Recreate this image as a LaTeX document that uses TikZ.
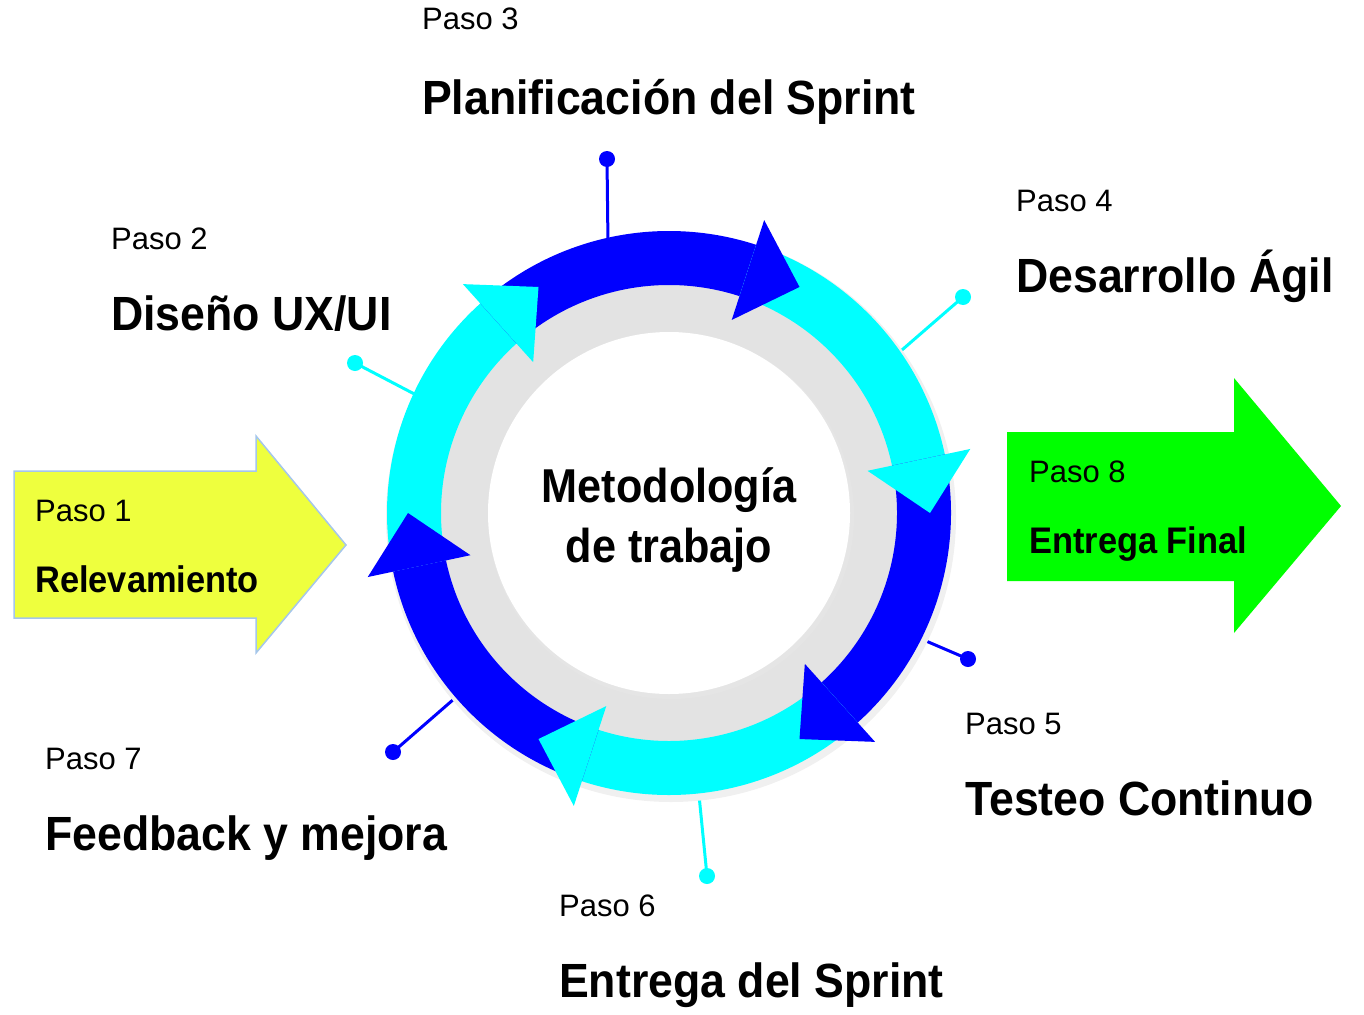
\documentclass[tikz,border=0pt]{standalone}
\usepackage{fontspec}
\setmainfont{Liberation Sans}
\newfontfamily\boldfont[FakeStretch=0.93]{Liberation Sans}
\newfontfamily\centerfont[FakeStretch=0.91]{Liberation Sans}
\usetikzlibrary{calc}
\definecolor{myblue}{RGB}{0,0,255}
\definecolor{mycyan}{RGB}{0,255,255}
\definecolor{ringgray}{RGB}{227,227,227}
\definecolor{yelfill}{RGB}{238,255,62}
\definecolor{yelborder}{RGB}{165,198,235}
\definecolor{grnfill}{RGB}{0,255,0}
\tikzset{
  pasotext/.style={anchor=base west,inner sep=0pt,font=\fontsize{31}{36}\selectfont},
  titletext/.style={anchor=base west,inner sep=0pt,font=\boldfont\bfseries\fontsize{48}{54}\selectfont},
  boxtitle/.style={anchor=base west,inner sep=0pt,font=\boldfont\bfseries\fontsize{37}{42}\selectfont},
  centertext/.style={anchor=base,inner sep=0pt,font=\centerfont\bfseries\fontsize{47.5}{54}\selectfont},
  pindot/.style={circle,fill=#1,inner sep=0pt,minimum size=16pt},
  pinline/.style={draw=#1,line width=3pt},
}
\begin{document}
\begin{tikzpicture}[x=1pt,y=-1pt]
\useasboundingbox (0,0) rectangle (1364,1014);
\coordinate (C) at (669,513);

% side arrows
\draw[fill=yelfill,draw=yelborder,line width=1.5pt,line join=miter]
  (14,471) -- (256,471) -- (256,436) -- (346,545) -- (256,653) -- (256,618) -- (14,618) -- cycle;
\fill[grnfill] (1007,432) -- (1234,432) -- (1234,378) -- (1341,506) -- (1234,633) -- (1234,581) -- (1007,581) -- cycle;

% pins (under the ring)
\node[pindot=myblue] (d3) at (607,159) {};
\coordinate (e3) at (608,245);
\draw[pinline=myblue] (d3.center) -- (e3);
\node[pindot=mycyan] (d4) at (963,297) {};
\coordinate (e4) at (895,356);
\draw[pinline=mycyan] (d4.center) -- (e4);
\node[pindot=mycyan] (d2) at (355,363) {};
\coordinate (e2) at (422,398);
\draw[pinline=mycyan] (d2.center) -- (e2);
\node[pindot=myblue] (d5) at (968,659) {};
\coordinate (e5) at (912,635);
\draw[pinline=myblue] (d5.center) -- (e5);
\node[pindot=mycyan] (d6) at (707,876) {};
\coordinate (e6) at (698,785);
\draw[pinline=mycyan] (d6.center) -- (e6);
\node[pindot=myblue] (d7) at (393,752) {};
\coordinate (e7) at (462,692);
\draw[pinline=myblue] (d7.center) -- (e7);

% gray ring and white centre
\fill[black!6] ($(C)+(2,4)$) circle[radius=285];
\fill[ringgray] (C) circle[radius=250];
\fill[black!10] ($(C)+(2,3)$) circle[radius=183];
\fill[white] (C) circle[radius=181];

% bands
\foreach \tp/\cl in {120/mycyan,60/myblue,0/mycyan,-60/myblue,-120/mycyan,180/myblue}{
  \pgfmathsetmacro{\aa}{-(\tp+72)}
  \pgfmathsetmacro{\ab}{-(\tp+12)}
  \fill[\cl] ($(C)+(\aa:282)$) arc[start angle=\aa,end angle=\ab,radius=282]
    -- ($(C)+(\ab:228)$) arc[start angle=\ab,end angle=\aa,radius=228] -- cycle;
}
% heads
\foreach \tp/\cl in {120/mycyan,60/myblue,0/mycyan,-60/myblue,-120/mycyan,180/myblue}{
  \pgfmathsetmacro{\ab}{-(\tp+12)}
  \pgfmathsetmacro{\at}{-(\tp)}
  \fill[\cl] ($(C)+(\ab:308)$) -- ($(C)+(\at:261)$) -- ($(C)+(\ab:203)$) -- cycle;
}

% centre text
\node[centertext] (c1) at (669,502) {Metodología};
\node[centertext] (c2) at (669,562) {de trabajo};

% labels
\node[pasotext] (p3) at (422,30) {Paso 3};
\node[titletext] (t3) at (422,115) {Planificación del Sprint};
\node[pasotext] (p4) at (1016,211) {Paso 4};
\node[titletext] (t4) at (1016,292) {Desarrollo Ágil};
\node[pasotext] (p2) at (111,249) {Paso 2};
\node[titletext] (t2) at (111,330) {Diseño UX/UI};
\node[pasotext] (p5) at (965,734) {Paso 5};
\node[titletext] (t5) at (965,815) {Testeo Continuo};
\node[pasotext] (p6) at (559,916) {Paso 6};
\node[titletext] (t6) at (559,997) {Entrega del Sprint};
\node[pasotext] (p7) at (45,769) {Paso 7};
\node[titletext] (t7) at (45,850) {Feedback y mejora};
\node[pasotext] (p1) at (35,521) {Paso 1};
\node[boxtitle] (t1) at (35,592) {Relevamiento};
\node[pasotext] (p8) at (1029,482) {Paso 8};
\node[boxtitle] (t8) at (1029,553) {Entrega Final};
\end{tikzpicture}
\end{document}
